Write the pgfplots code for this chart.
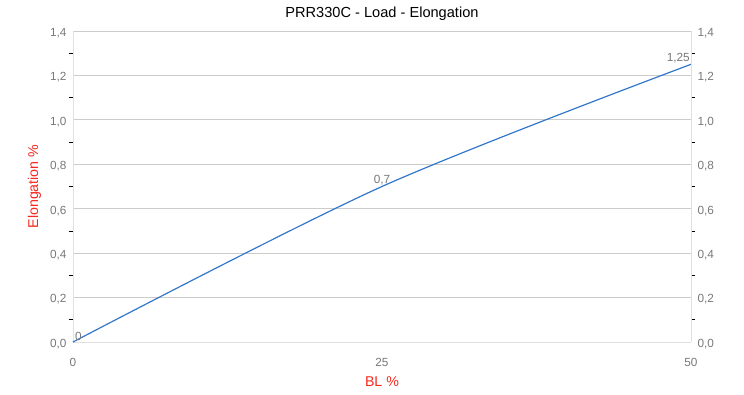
\documentclass[border=0pt]{standalone}
\usepackage{pgfplots}
\pgfplotsset{compat=1.18}
\usepackage{fontspec}
\setmainfont{Liberation Sans}
\definecolor{linecol}{RGB}{51,119,201}
\definecolor{tickgray}{RGB}{120,120,120}
\definecolor{gridgray}{RGB}{204,204,204}
\definecolor{labred}{RGB}{245,40,30}
\pgfplotsset{
  base/.style={
    scale only axis, width=618pt, height=311pt,
    xmin=0, xmax=50, ymin=0, ymax=1.4,
    ytick={0,0.2,...,1.4},
    minor ytick={0.1,0.3,0.5,0.7,0.9,1.1,1.3},
    tick align=outside,
    major tick length=0pt, minor tick length=4pt,
    minor tick style={black, line width=0.8pt},
    axis line style={gridgray!60},
    tick label style={font=\fontsize{11.8}{13}\selectfont, text=tickgray},
    /pgf/number format/assume math mode=true,
    yticklabel style={/pgf/number format/fixed, /pgf/number format/fixed zerofill, /pgf/number format/precision=1, /pgf/number format/use comma},
    clip=false,
  }
}
\begin{document}
\begin{tikzpicture}
\begin{axis}[base,
  axis x line*=bottom, axis y line*=left,
  xtick={0,25,50},
  xticklabel style={yshift=-13pt},
  ymajorgrids, grid style={gridgray, line width=0.8pt},
  title={PRR330C - Load - Elongation},
  title style={font=\fontsize{14.6}{16}\selectfont, yshift=1pt},
  xlabel={BL \%}, ylabel={Elongation \%},
  label style={font=\fontsize{14.2}{16}\selectfont, text=labred},
  xlabel style={yshift=-3pt},
  ylabel style={yshift=2pt},
  yticklabel style={xshift=-3pt, yshift=-2pt},
]
\path (rel axis cs:-0.1181,-0.1704) rectangle (rel axis cs:1.0858,1.0997);
\addplot[linecol, line width=1.2pt, smooth, tension=0.5] coordinates {(0,0) (25,0.7) (50,1.25)};
\addplot[draw=none, nodes near coords={0}, nodes near coords style={anchor=south west, font=\fontsize{11.8}{13}\selectfont, text=tickgray, inner sep=1pt, xshift=1pt}] coordinates {(0,0)};
\addplot[draw=none, nodes near coords={0,7}, nodes near coords style={anchor=south, font=\fontsize{11.8}{13}\selectfont, text=tickgray, inner sep=1pt}] coordinates {(25,0.7)};
\addplot[draw=none, nodes near coords={1,25}, nodes near coords style={anchor=south east, font=\fontsize{11.8}{13}\selectfont, text=tickgray, inner sep=1pt}] coordinates {(50,1.25)};
\end{axis}
\begin{axis}[base,
  axis x line=none, axis y line*=right,
  yticklabel pos=right,
  yticklabel style={xshift=3pt, yshift=-2pt},
]
\end{axis}
\end{tikzpicture}
\end{document}
